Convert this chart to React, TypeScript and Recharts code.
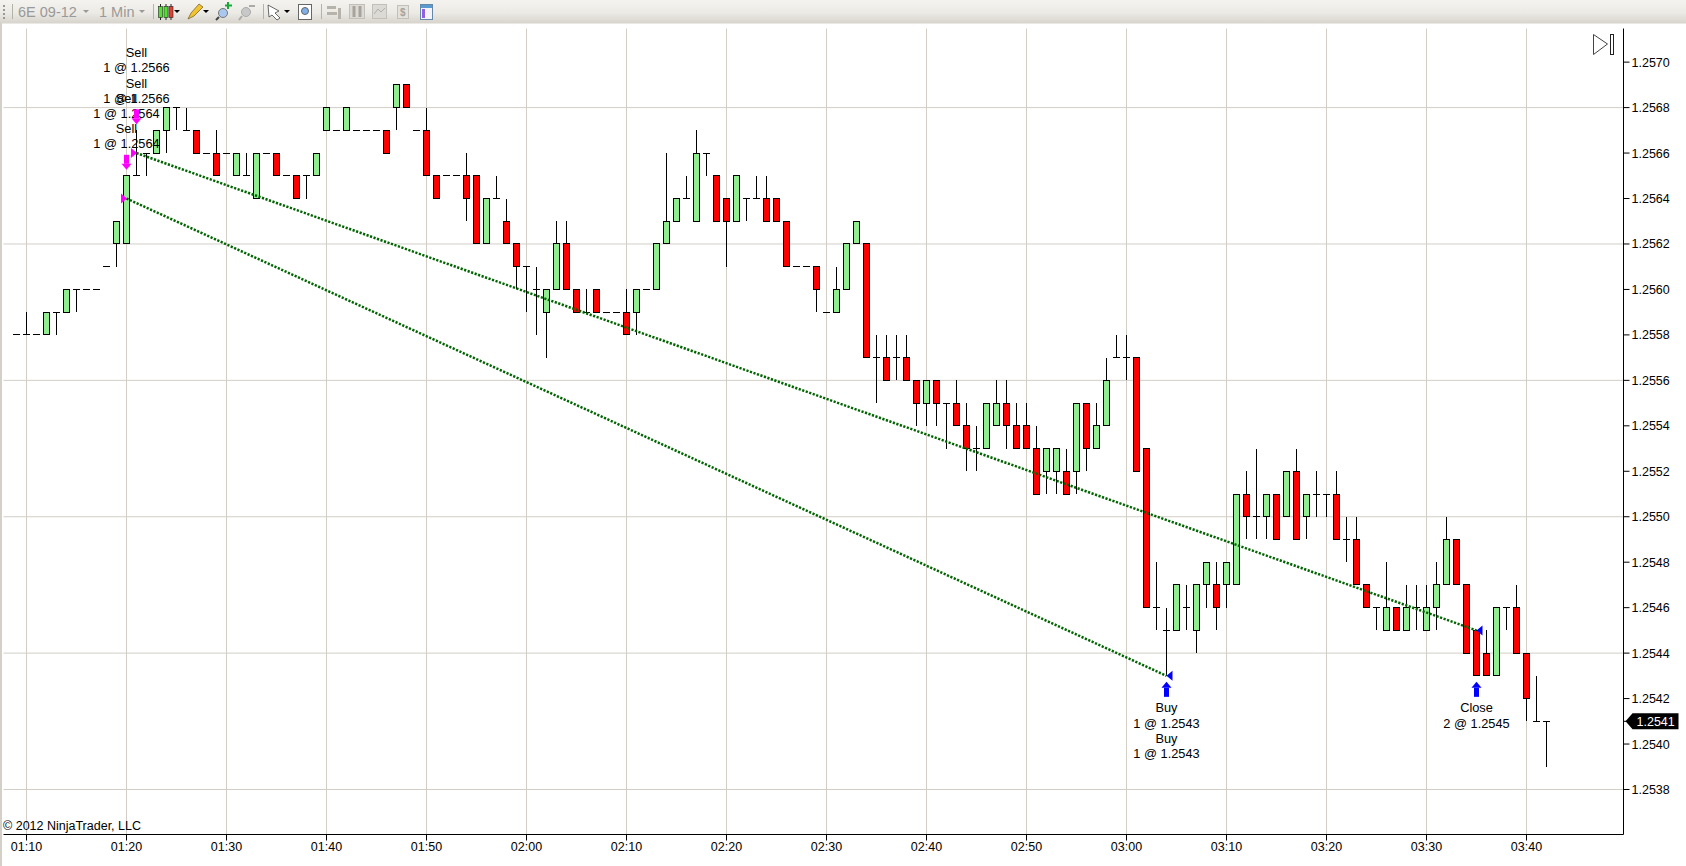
import React from 'react';
import {
  Bar,
  CartesianGrid,
  ComposedChart,
  Line,
  ReferenceDot,
  XAxis,
  YAxis,
} from 'recharts';

// 1 minute bars of 6E 09-12, first bar is 01:09. Prices in 1/10000.
const firstMinute = 69;
const opens = [
  12558, 12558, 12558, 12558, 12559, 12559, 12560, 12560, 12560, 12561, 12562, 12562, 12565, 12566, 12566, 12567,
  12568, 12567, 12567, 12566, 12566, 12566, 12565, 12565, 12564, 12566, 12566, 12565, 12565, 12565, 12565, 12567,
  12567, 12567, 12567, 12567, 12567, 12567, 12568, 12569, 12567, 12567, 12565, 12565, 12565, 12565, 12565, 12562,
  12564, 12563, 12562, 12561, 12560, 12559, 12560, 12562, 12560, 12559, 12560, 12559, 12559, 12559, 12559, 12560,
  12560, 12562, 12563, 12564, 12563, 12566, 12565, 12564, 12563, 12564, 12564, 12564, 12564, 12563, 12561, 12561,
  12561, 12559, 12559, 12560, 12562, 12562, 12557, 12557, 12557, 12557, 12556, 12555, 12556, 12555, 12555, 12554,
  12553, 12553, 12554, 12555, 12554, 12554, 12553, 12552, 12552, 12552, 12552, 12555, 12553, 12554, 12557, 12557,
  12557, 12553, 12546, 12545, 12545, 12546, 12545, 12547, 12547, 12547, 12547, 12551, 12550, 12550, 12551, 12550,
  12552, 12550, 12551, 12551, 12551, 12549, 12549, 12547, 12546, 12545, 12546, 12545, 12546, 12545, 12546, 12547,
  12549, 12547, 12545, 12544, 12543, 12546, 12546, 12544, 12541, 12541,
];
const highs = [
  12558, 12559, 12558, 12559, 12559, 12560, 12560, 12560, 12560, 12561, 12563, 12565, 12567, 12566, 12567, 12568,
  12568, 12568, 12567, 12566, 12567, 12566, 12566, 12566, 12566, 12566, 12566, 12565, 12565, 12565, 12566, 12568,
  12567, 12568, 12567, 12567, 12567, 12567, 12569, 12569, 12567, 12568, 12565, 12565, 12565, 12566, 12565, 12564,
  12565, 12564, 12562, 12561, 12561, 12560, 12563, 12563, 12560, 12560, 12560, 12559, 12559, 12560, 12560, 12560,
  12562, 12566, 12564, 12565, 12567, 12566, 12565, 12564, 12565, 12564, 12565, 12565, 12564, 12563, 12561, 12561,
  12561, 12559, 12561, 12562, 12563, 12562, 12558, 12558, 12558, 12558, 12556, 12556, 12556, 12555, 12556, 12555,
  12554, 12555, 12556, 12556, 12555, 12555, 12554, 12553, 12553, 12553, 12555, 12555, 12555, 12557, 12558, 12558,
  12557, 12553, 12548, 12546, 12547, 12547, 12547, 12548, 12548, 12548, 12551, 12552, 12553, 12551, 12551, 12552,
  12553, 12551, 12552, 12551, 12552, 12550, 12550, 12547, 12546, 12548, 12546, 12547, 12547, 12547, 12548, 12550,
  12549, 12547, 12545, 12545, 12546, 12546, 12547, 12544, 12543, 12541,
];
const lows = [
  12558, 12558, 12558, 12558, 12558, 12559, 12559, 12560, 12560, 12561, 12561, 12562, 12565, 12565, 12566, 12566,
  12567, 12567, 12566, 12566, 12565, 12566, 12565, 12565, 12564, 12566, 12565, 12565, 12564, 12564, 12565, 12567,
  12567, 12567, 12567, 12567, 12567, 12566, 12567, 12568, 12567, 12565, 12564, 12565, 12565, 12563, 12562, 12562,
  12564, 12562, 12560, 12559, 12558, 12557, 12560, 12560, 12559, 12559, 12559, 12559, 12559, 12558, 12558, 12560,
  12560, 12562, 12563, 12564, 12563, 12565, 12563, 12561, 12563, 12563, 12564, 12563, 12563, 12561, 12561, 12561,
  12559, 12559, 12559, 12560, 12562, 12557, 12555, 12556, 12556, 12556, 12554, 12554, 12554, 12553, 12554, 12552,
  12552, 12553, 12554, 12553, 12553, 12553, 12551, 12551, 12551, 12551, 12551, 12552, 12553, 12554, 12557, 12556,
  12552, 12546, 12545, 12543, 12545, 12545, 12544, 12546, 12545, 12546, 12547, 12549, 12549, 12549, 12549, 12550,
  12549, 12549, 12550, 12550, 12549, 12548, 12547, 12546, 12545, 12545, 12545, 12545, 12545, 12545, 12545, 12547,
  12547, 12544, 12543, 12543, 12543, 12545, 12544, 12541, 12541, 12539,
];
const closes = [
  12558, 12558, 12558, 12559, 12559, 12560, 12560, 12560, 12560, 12561, 12563, 12565, 12565, 12566, 12567, 12568,
  12568, 12567, 12566, 12566, 12565, 12566, 12566, 12565, 12566, 12566, 12565, 12565, 12564, 12565, 12566, 12568,
  12567, 12568, 12567, 12567, 12567, 12566, 12569, 12568, 12567, 12565, 12564, 12565, 12565, 12564, 12562, 12564,
  12564, 12562, 12561, 12561, 12560, 12560, 12562, 12560, 12559, 12559, 12559, 12559, 12559, 12558, 12560, 12560,
  12562, 12563, 12564, 12564, 12566, 12566, 12563, 12563, 12565, 12564, 12564, 12563, 12563, 12561, 12561, 12561,
  12560, 12559, 12560, 12562, 12563, 12557, 12557, 12556, 12557, 12556, 12555, 12556, 12555, 12555, 12554, 12553,
  12553, 12555, 12555, 12554, 12553, 12553, 12551, 12553, 12553, 12551, 12555, 12553, 12554, 12556, 12557, 12557,
  12552, 12546, 12546, 12545, 12547, 12546, 12547, 12548, 12546, 12548, 12551, 12550, 12550, 12551, 12549, 12552,
  12549, 12551, 12551, 12551, 12549, 12549, 12547, 12546, 12546, 12546, 12545, 12546, 12546, 12546, 12547, 12549,
  12547, 12544, 12543, 12543, 12546, 12546, 12544, 12542, 12541, 12541,
];

const xTicks = [70, 80, 90, 100, 110, 120, 130, 140, 150, 160, 170, 180, 190, 200, 210, 220];
const yTicks = [
  1.257, 1.2568, 1.2566, 1.2564, 1.2562, 1.256, 1.2558, 1.2556, 1.2554, 1.2552, 1.255, 1.2548, 1.2546, 1.2544,
  1.2542, 1.254, 1.2538,
];
const yGrid = [1.2568, 1.2562, 1.2556, 1.255, 1.2544, 1.2538];
const lastPrice = 1.2541;

// trade connectors, entry to exit
const tradeOne = [
  { minute: 80, price: 1.2564 },
  { minute: 184, price: 1.2543 },
];
const tradeTwo = [
  { minute: 81, price: 1.2566 },
  { minute: 215, price: 1.2545 },
];

const arrowMarks = [
  { minute: 80, price: 1.2565, dir: 'down', lines: ['Sell', '1 @ 1.2564', 'Sell', '1 @ 1.2564'] },
  { minute: 81, price: 1.2567, dir: 'down', lines: ['Sell', '1 @ 1.2566', 'Sell', '1 @ 1.2566'] },
  { minute: 184, price: 1.2543, dir: 'up', lines: ['Buy', '1 @ 1.2543', 'Buy', '1 @ 1.2543'] },
  { minute: 215, price: 1.2543, dir: 'up', lines: ['Close', '2 @ 1.2545'] },
];
const fillMarks = [
  { minute: 80, price: 1.2564, dir: 'right' },
  { minute: 81, price: 1.2566, dir: 'right' },
  { minute: 184, price: 1.2543, dir: 'left' },
  { minute: 215, price: 1.2545, dir: 'left' },
];

const candles = opens.map((o, i) => ({
  minute: firstMinute + i,
  open: o / 10000,
  high: highs[i] / 10000,
  low: lows[i] / 10000,
  close: closes[i] / 10000,
  range: [lows[i] / 10000, highs[i] / 10000],
}));

const FONT = '"Liberation Sans", Arial, sans-serif';
const fmtTime = (m: number) => `${String(Math.floor(m / 60)).padStart(2, '0')}:${String(m % 60).padStart(2, '0')}`;

const Candle = (props: any) => {
  const { x, y, width, height, payload } = props;
  const { open, high, low, close } = payload;
  const cx = x + width / 2;
  const perUnit = high > low ? height / (high - low) : 0;
  const yOpen = y + (high - open) * perUnit;
  const yClose = y + (high - close) * perUnit;
  const top = Math.min(yOpen, yClose);
  const doji = open === close;
  return (
    <g shapeRendering="crispEdges">
      {height > 0 && <line x1={cx} x2={cx} y1={y} y2={y + height} stroke="#000" />}
      {doji ? (
        <line x1={cx - 3.5} x2={cx + 3.5} y1={yOpen} y2={yOpen} stroke="#000" />
      ) : (
        <rect
          x={cx - 3}
          y={top}
          width={6}
          height={Math.abs(yOpen - yClose)}
          fill={close > open ? '#90EE90' : '#FF0000'}
          stroke="#000"
        />
      )}
    </g>
  );
};

const ArrowMark = ({ cx, cy, dir, lines }: any) => {
  const down = dir === 'down';
  const s = down ? -1 : 1;
  const y0 = cy + s * 6;
  const y1 = cy + s * 21;
  const neck = cy + s * 12;
  const head = down
    ? `${cx - 5},${y0 - 6} ${cx + 5},${y0 - 6} ${cx},${y0}`
    : `${cx - 5},${y0 + 6} ${cx + 5},${y0 + 6} ${cx},${y0}`;
  return (
    <g>
      <polygon points={head} fill={down ? '#FF00FF' : '#0000FF'} />
      <rect
        x={cx - 2.5}
        y={Math.min(neck, y1)}
        width={5}
        height={Math.abs(y1 - neck)}
        fill={down ? '#FF00FF' : '#0000FF'}
      />
      {lines.map((t: string, i: number) => {
        // labels stack away from the bar, reading top to bottom
        const off = down ? -32 - (lines.length - 1 - i) * 15.2 : 32 + i * 15.2;
        return (
          <text key={i} x={cx} y={cy + off + 4.5} textAnchor="middle" fontFamily={FONT} fontSize={12.8} fill="#000">
            {t}
          </text>
        );
      })}
    </g>
  );
};

const FillMark = ({ cx, cy, dir }: any) => {
  const right = dir === 'right';
  const pts = right
    ? `${cx - 5.5},${cy - 5} ${cx - 5.5},${cy + 5} ${cx + 0.5},${cy}`
    : `${cx + 6},${cy - 5} ${cx + 6},${cy + 5} ${cx},${cy}`;
  return <polygon points={pts} fill={right ? '#FF00FF' : '#0000FF'} />;
};

const PriceTick = (props: any) => {
  const { x, y, payload } = props;
  if (payload.value === lastPrice) {
    const left = x - 8;
    return (
      <g>
        <polygon
          points={`${left + 2},${y} ${left + 9},${y - 8} ${left + 55},${y - 8} ${left + 55},${y + 8} ${left + 9},${y + 8}`}
          fill="#000"
        />
        <text x={left + 13} y={y + 4.5} fontFamily={FONT} fontSize={12.5} fill="#fff">
          {payload.value.toFixed(4)}
        </text>
      </g>
    );
  }
  return (
    <text x={x} y={y + 4.5} fontFamily={FONT} fontSize={12.5} fill="#000">
      {payload.value.toFixed(4)}
    </text>
  );
};

const Caret = ({ x }: { x: number }) => <polygon points={`${x - 3},10 ${x + 3},10 ${x},13`} fill="#000" />;
const GrayCaret = ({ x }: { x: number }) => <polygon points={`${x - 3},10 ${x + 3},10 ${x},13`} fill="#999" />;
const Sep = ({ x }: { x: number }) => <rect x={x} y={4} width={1} height={15} fill="#b5b2aa" />;

const Toolbar = () => (
  <svg width={1686} height={24} style={{ position: 'absolute', left: 0, top: 0 }}>
    <defs>
      <linearGradient id="bar" x1="0" y1="0" x2="0" y2="1">
        <stop offset="0" stopColor="#f4f3ef" />
        <stop offset="0.55" stopColor="#eceae5" />
        <stop offset="1" stopColor="#d6d3cb" />
      </linearGradient>
    </defs>
    <rect width={1686} height={23.5} fill="url(#bar)" />
    <rect x={3} y={5} width={2} height={2} fill="#999" />
    <rect x={3} y={9} width={2} height={2} fill="#999" />
    <rect x={3} y={13} width={2} height={2} fill="#999" />
    <rect x={3} y={17} width={2} height={2} fill="#999" />
    <Sep x={12} />
    <text x={18} y={17} fontFamily={FONT} fontSize={14.5} fill="#999">6E 09-12</text>
    <GrayCaret x={86} />
    <text x={99} y={17} fontFamily={FONT} fontSize={14.5} fill="#999">1 Min</text>
    <GrayCaret x={142} />
    <Sep x={153} />
    <path d="M160.5 4v16M166 4v16M171 4v16" stroke="#222" />
    <rect x={158.5} y={6.5} width={4} height={11} fill="#50e030" stroke="#222" strokeWidth={0.6} />
    <rect x={164} y={6.5} width={4} height={11} fill="#50e030" stroke="#222" strokeWidth={0.6} />
    <rect x={169} y={6.5} width={4} height={11} fill="#e04030" stroke="#222" strokeWidth={0.6} />
    <Caret x={177} />
    <polygon points="188,19 191,13 199,4 203,7 194,16" fill="#f2c230" stroke="#6b5a20" strokeWidth={0.7} />
    <Caret x={206} />
    <circle cx={223} cy={13} r={4.5} fill="#a8c8f0" stroke="#777" />
    <line x1={219} y1={17} x2={216} y2={20} stroke="#444" strokeWidth={2} />
    <path d="M228 2v7M225 5.5h7" stroke="#18a838" strokeWidth={2} />
    <circle cx={246} cy={12} r={4.5} fill="#c8c8c8" stroke="#aaa" />
    <line x1={242} y1={16} x2={239} y2={20} stroke="#aaa" strokeWidth={2} />
    <path d="M249 6h6" stroke="#aaa" strokeWidth={2} />
    <Sep x={263} />
    <polygon points="268,5 279,11 275,13 280,18 277,20 272,15 269,17" fill="#fff" stroke="#444" strokeWidth={0.8} />
    <Caret x={287} />
    <rect x={298.5} y={4.5} width={13} height={15} fill="#fff" stroke="#666" />
    <circle cx={305} cy={11} r={3.5} fill="#7fb0e8" stroke="#666" />
    <Sep x={321} />
    <path d="M327 6h9v3h-9zM327 12h10v3h-10zM338 8h3v11h-3z" fill="#b5b3ac" />
    <rect x={349.5} y={4.5} width={15} height={14} fill="#dcdad4" stroke="#c2c0b9" />
    <path d="M354 6v11M360 6v11" stroke="#a5a39c" strokeWidth={3} />
    <rect x={372.5} y={4.5} width={14} height={14} fill="#dcdad4" stroke="#c2c0b9" />
    <path d="M374 14l4-5 3 3 4-4" stroke="#b0aea7" fill="none" />
    <rect x={397.5} y={5.5} width={11} height={13} fill="#e4e2dc" stroke="#c2c0b9" />
    <text x={400} y={16} fontFamily={FONT} fontSize={10} fontWeight="bold" fill="#a5a39c">$</text>
    <rect x={420.5} y={4.5} width={12} height={15} fill="#f4f4f8" stroke="#6688a8" />
    <rect x={421} y={5} width={11} height={3} fill="#5b9ad0" />
    <rect x={422} y={9} width={3} height={9} fill="#9060e0" />
  </svg>
);

export default function App() {
  return (
    <div style={{ position: 'absolute', left: 0, top: 0, width: 1686, height: 866, background: '#fff', overflow: 'hidden' }}>
      <ComposedChart
        width={1686}
        height={866}
        data={candles}
        margin={{ top: 28.5, right: 0, bottom: 0, left: 3.5 }}
      >
        <CartesianGrid stroke="#d2cec6" horizontalValues={yGrid} verticalValues={xTicks} />
        <XAxis
          dataKey="minute"
          type="number"
          domain={[67.7, 229.7]}
          ticks={xTicks}
          interval={0}
          tickFormatter={fmtTime}
          height={31.5}
          tickSize={6}
          tickMargin={2}
          stroke="#000"
          tick={{ fontFamily: FONT, fontSize: 12.5, fill: '#000' }}
        />
        <YAxis
          orientation="right"
          type="number"
          domain={[1.253602, 1.257148]}
          ticks={[...yTicks, lastPrice]}
          interval={0}
          width={62.5}
          tickSize={6}
          tickMargin={2}
          stroke="#000"
          tick={<PriceTick />}
        />
        <Bar dataKey="range" barSize={7} shape={<Candle />} isAnimationActive={false} />
        <Line
          data={tradeOne}
          dataKey="price"
          stroke="#006400"
          strokeWidth={2.5}
          strokeDasharray="2.2 1.5"
          dot={false}
          activeDot={false}
          isAnimationActive={false}
        />
        <Line
          data={tradeTwo}
          dataKey="price"
          stroke="#006400"
          strokeWidth={2.5}
          strokeDasharray="2.2 1.5"
          dot={false}
          activeDot={false}
          isAnimationActive={false}
        />
        {arrowMarks.map((m) => (
          <ReferenceDot
            key={`a${m.minute}`}
            x={m.minute}
            y={m.price}
            ifOverflow="visible"
            shape={(p: any) => <ArrowMark cx={p.cx} cy={p.cy} dir={m.dir} lines={m.lines} />}
          />
        ))}
        {fillMarks.map((m) => (
          <ReferenceDot
            key={`f${m.minute}`}
            x={m.minute}
            y={m.price}
            ifOverflow="visible"
            shape={(p: any) => <FillMark cx={p.cx} cy={p.cy} dir={m.dir} />}
          />
        ))}
      </ComposedChart>
      <Toolbar />
      <div style={{ position: 'absolute', left: 0, top: 23, width: 2, height: 843, background: '#d4d0c8' }} />
      <div style={{ position: 'absolute', left: 3, top: 819, font: `12.5px ${FONT}`, color: '#000' }}>
        © 2012 NinjaTrader, LLC
      </div>
      <svg width={24} height={24} style={{ position: 'absolute', left: 1592, top: 33 }}>
        <polygon points="1.5,1.5 15.5,11 1.5,21.5" fill="#fff" stroke="#444" />
        <rect x={18.5} y={1.5} width={3} height={20} fill="#fff" stroke="#222" />
      </svg>
    </div>
  );
}
